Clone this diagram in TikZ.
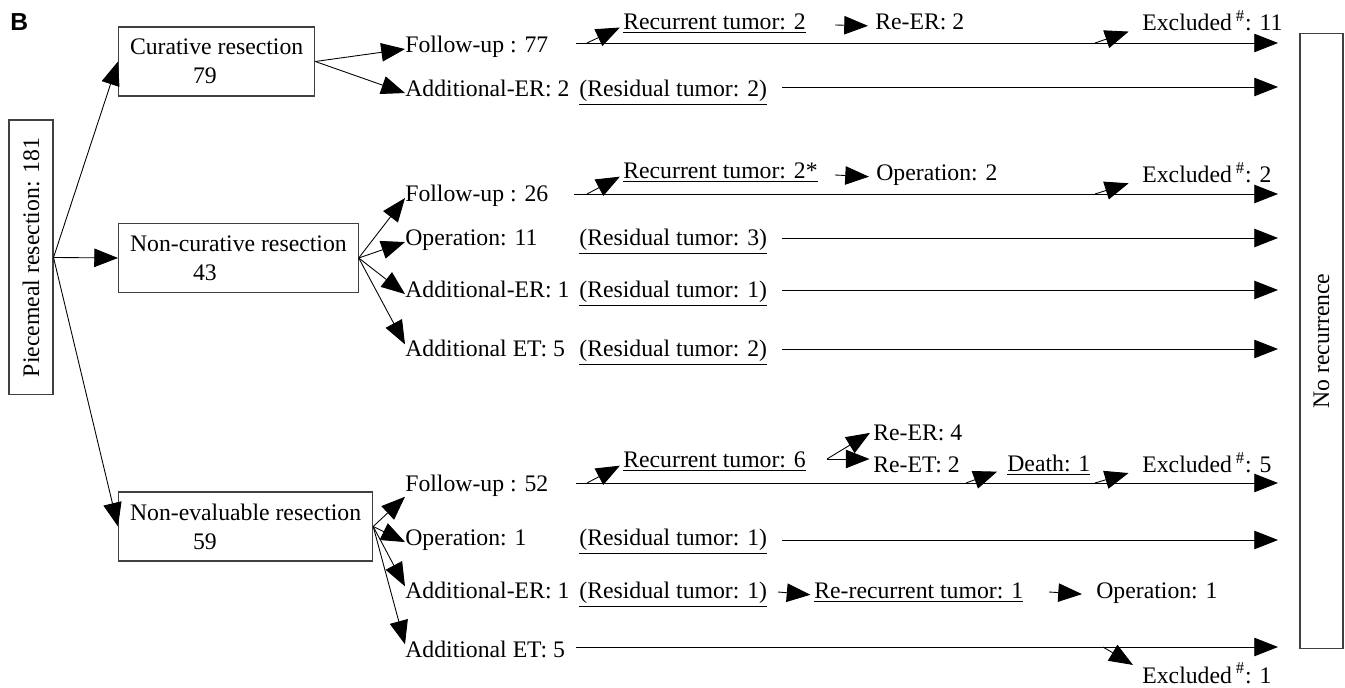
\documentclass[tikz,border=0pt]{standalone}
\usepackage{fontspec}
\setmainfont{Liberation Serif}
\setsansfont{Liberation Sans}
\usetikzlibrary{arrows.meta,calc}
\tikzset{
  box/.style={draw=black!75, line width=0.6pt, align=left, inner xsep=0.23cm, minimum height=1.38cm},
  lbl/.style={inner sep=0pt, anchor=base west, text height=0.7em, text depth=0.25em},
  arr/.style={line width=0.5pt, -{Triangle[length=13.5pt,width=10.5pt]}},
}
\begin{document}
\begin{tikzpicture}[x=0.02cm,y=-0.02cm,font=\fontsize{13.5}{16.4}\selectfont]
\useasboundingbox (0,0) rectangle (1345,688);
\node[inner sep=0pt, anchor=base west, font=\sffamily\bfseries\fontsize{14}{16}\selectfont] (panel) at (10,31) {B};
% boxes
\node[draw=black!75, line width=0.6pt, rotate=90, minimum width=5.5cm, minimum height=0.88cm, inner sep=0pt] (pr) at (31,257.5) {Piecemeal resection: 181};
\node[box, anchor=west] (cur) at (118,61.5) {Curative resection\\\hspace*{1.26cm}79};
\node[box, anchor=west] (ncur) at (118,258) {Non-curative resection\\\hspace*{1.26cm}43};
\node[box, anchor=west] (neval) at (118,526.5) {Non-evaluable resection\\\hspace*{1.26cm}59};
\node[draw=black!75, line width=0.6pt, rotate=90, minimum width=12.32cm, minimum height=0.86cm, inner sep=0pt] (norec) at (1321.5,341) {No recurrence};
\draw[arr] (pr.south) -- (cur.west);
\draw[arr] (pr.south) -- (ncur.west);
\draw[arr] (pr.south) -- (neval.west);

% curative
\node[lbl] (cfu) at (405,53) {Follow-up : 77};
\node[lbl] (crt) at (623,30) {\underline{Recurrent tumor: 2}};
\node[lbl] (creer) at (875,30) {Re-ER: 2};
\node[lbl] (cexc) at (1142,31) {Excluded\,\textsuperscript{\#}: 11};
\node[lbl] (caer) at (405,97) {Additional-ER: 2};
\node[lbl] (cres) at (579,97) {\underline{(Residual tumor: 2)}};
\draw[arr] (cur.east) -- (cfu.west);
\draw[arr] (cur.east) -- (caer.west);
\coordinate (c1s) at (576,43);
\coordinate (c1e) at (1278,43);
\coordinate (c1a) at (587,43);
\coordinate (c1b) at (1095,43);
\coordinate (c1r) at (835,25);
\coordinate (c2s) at (782,87);
\coordinate (c2e) at (1278,87);
\draw[arr] (c1s) -- (c1e);
\draw[arr, shorten >=2pt] (c1a) -- (crt.west);
\draw[arr, shorten >=4pt] (c1r) -- (creer.west);
\draw[arr, shorten >=8pt] (c1b) -- (cexc.west);
\draw[arr] (c2s) -- (c2e);

% non-curative
\node[lbl] (nfu) at (405,202) {Follow-up : 26};
\node[lbl] (nrt) at (623,179) {\underline{Recurrent tumor: 2*}};
\node[lbl] (nop2) at (876,181) {Operation: 2};
\node[lbl] (nexc) at (1142,183) {Excluded\,\textsuperscript{\#}: 2};
\node[lbl] (nop) at (405,246) {Operation: 11};
\node[lbl] (nres3) at (579,246) {\underline{(Residual tumor: 3)}};
\node[lbl] (naer) at (405,298) {Additional-ER: 1};
\node[lbl] (nres1) at (579,298) {\underline{(Residual tumor: 1)}};
\node[lbl] (naet) at (405,357) {Additional ET: 5};
\node[lbl] (nres2) at (579,357) {\underline{(Residual tumor: 2)}};
\draw[arr] (ncur.east) -- (nfu.west);
\draw[arr] (ncur.east) -- (nop.west);
\draw[arr] (ncur.east) -- (naer.west);
\draw[arr] (ncur.east) -- (naet.north west);
\coordinate (n1s) at (574,194);
\coordinate (n1e) at (1278,194);
\coordinate (n1a) at (587,194);
\coordinate (n1b) at (1095,194);
\coordinate (n1r) at (835,175);
\draw[arr] (n1s) -- (n1e);
\draw[arr, shorten >=2pt] (n1a) -- (nrt.west);
\draw[arr, shorten >=4pt] (n1r) -- (nop2.west);
\draw[arr, shorten >=8pt] (n1b) -- (nexc.west);
\coordinate (n2s) at (782,238);
\coordinate (n2e) at (1278,238);
\coordinate (n3s) at (782,290);
\coordinate (n3e) at (1278,290);
\coordinate (n4s) at (782,349);
\coordinate (n4e) at (1278,349);
\draw[arr] (n2s) -- (n2e);
\draw[arr] (n3s) -- (n3e);
\draw[arr] (n4s) -- (n4e);

% non-evaluable
\node[lbl] (efu) at (405,492) {Follow-up : 52};
\node[lbl] (ert) at (623,468) {\underline{Recurrent tumor: 6}};
\node[lbl] (ereer) at (873,441) {Re-ER: 4};
\node[lbl] (ereet) at (873,473) {Re-ET: 2};
\node[lbl] (edeath) at (1007,472) {\underline{Death: 1}};
\node[lbl] (eexc) at (1142,473) {Excluded\,\textsuperscript{\#}: 5};
\node[lbl] (eop) at (405,546) {Operation: 1};
\node[lbl] (eres1) at (579,546) {\underline{(Residual tumor: 1)}};
\node[lbl] (eaer) at (405,599) {Additional-ER: 1};
\node[lbl] (eres2) at (579,599) {\underline{(Residual tumor: 1)}};
\node[lbl] (erec) at (814,599) {\underline{Re-recurrent tumor: 1}};
\node[lbl] (eop2) at (1096,599) {Operation: 1};
\node[lbl] (eaet) at (405,657) {Additional ET: 5};
\node[lbl] (eexc1) at (1142,683) {Excluded\,\textsuperscript{\#}: 1};
\draw[arr] (neval.east) -- (efu.south west);
\draw[arr] (neval.east) -- (eop.west);
\draw[arr] (neval.east) -- (eaer.north west);
\draw[arr] (neval.east) -- (eaet.north west);
\coordinate (e1s) at (576,483);
\coordinate (e1e) at (1278,483);
\coordinate (e1a) at (587,483);
\coordinate (e1c) at (966,483);
\coordinate (e1b) at (1095,483);
\coordinate (ebr) at (827,459);
\draw[arr] (e1s) -- (e1e);
\draw[arr, shorten >=2pt] (e1a) -- (ert.west);
\draw[arr, shorten >=2pt] (ebr) -- ($(ereer.west)+(0,-6)$);
\draw[arr, shorten >=2pt] (ebr) -- (ereet.west |- ebr);
\draw[arr, shorten >=6pt] (e1c) -- (edeath.west);
\draw[arr, shorten >=8pt] (e1b) -- (eexc.west);
\coordinate (e2s) at (782,540);
\coordinate (e2e) at (1278,540);
\draw[arr] (e2s) -- (e2e);
\coordinate (e3a) at (778,592);
\coordinate (e3b) at (1049,592);
\draw[arr, shorten >=2pt] (e3a) -- (erec.west);
\draw[arr, shorten >=8pt] (e3b) -- (eop2.west);
\coordinate (e4s) at (576,647);
\coordinate (e4e) at (1278,647);
\coordinate (e4a) at (1103,647);
\draw[arr] (e4s) -- (e4e);
\draw[arr, shorten >=6pt] (e4a) -- (eexc1.north west);
\end{tikzpicture}
\end{document}
